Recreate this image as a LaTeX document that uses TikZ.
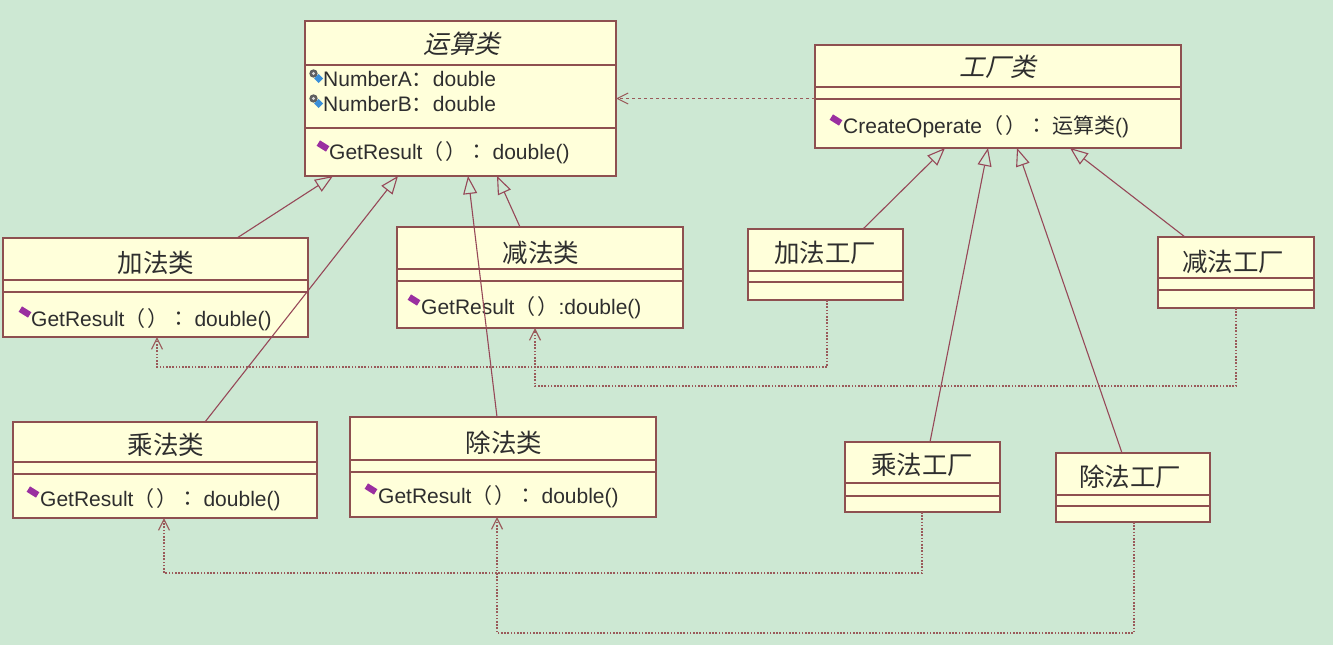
\documentclass[tikz,border=0pt]{standalone}
\usepackage{fontspec}
\setmainfont{Liberation Sans}
\newfontfamily\cjk{Noto Sans CJK SC}
\newfontfamily\cjkp{Noto Sans CJK TC}
\newfontfamily\cjkit[FakeSlant=0.22]{Noto Sans CJK SC}
\usetikzlibrary{arrows.meta}
\definecolor{bg}{HTML}{CDE8D3}
\definecolor{boxfill}{HTML}{FFFFDA}
\definecolor{boxdraw}{HTML}{8E5050}
\definecolor{linec}{HTML}{964858}
\definecolor{depc}{HTML}{9A5A5A}
\definecolor{txt}{HTML}{2E2E2E}
\definecolor{methc}{HTML}{9A2FA0}
\definecolor{attrc}{HTML}{3A8FD8}
\newcommand\pp{{\cjkp （\kern2pt）}}
\newcommand\cc{{\cjkp ：}\kern5pt}
\newcommand\ca{{\cjk ：}}
\begin{document}
\begin{tikzpicture}[x=1pt,y=-1pt,
  cls/.style={draw=boxdraw, fill=boxfill, line width=1.3pt, inner sep=0pt, outer sep=0pt, anchor=north west},
  sep/.style={draw=boxdraw, line width=1.3pt},
  ttl/.style={inner sep=0pt, text=txt, font=\cjk\fontsize{25.5}{28}\selectfont},
  ttli/.style={inner sep=0pt, text=txt, font=\cjkit\fontsize{25.5}{28}\selectfont},
  mem/.style={inner sep=0pt, anchor=west, text=txt, font=\fontsize{21}{25}\selectfont},
  gen/.style={draw=linec, line width=1.1pt, -{Triangle[open, length=18pt, width=14pt]}},
  dep/.style={draw=depc, line width=1.2pt, dash pattern=on 1.6pt off 1.6pt, -{Straight Barb[length=11pt, width=11pt]}},
  dep2/.style={draw=depc, line width=1.1pt, dash pattern=on 3pt off 3pt, -{Straight Barb[length=11pt, width=11pt]}},
  methico/.pic={\fill[methc, rotate=-32] (-5.5,-3.2) rectangle (5.5,3.2);},
  attrico/.pic={\fill[gray!75!black] (-2.5,-2.5) circle (4.2); \fill[white!70!gray] (-2.5,-2.5) circle (1.6); \fill[attrc] (2.5,-2) -- (7,2.5) -- (2.5,7) -- (-2,2.5) -- cycle;}
]
\useasboundingbox (0,0) rectangle (1333,645);
\fill[bg] (0,0) rectangle (1333,645);

% ---------- class boxes ----------
\node[cls, minimum width=311pt, minimum height=155pt] (op)   at (305,21)  {};
\node[cls, minimum width=366pt, minimum height=103pt] (fac)  at (815,45)  {};
\node[cls, minimum width=305pt, minimum height=99pt]  (addc) at (3,238)   {};
\node[cls, minimum width=286pt, minimum height=101pt] (subc) at (397,227) {};
\node[cls, minimum width=304pt, minimum height=96pt]  (mulc) at (13,422)  {};
\node[cls, minimum width=306pt, minimum height=100pt] (divc) at (350,417) {};
\node[cls, minimum width=155pt, minimum height=71pt]  (addf) at (748,229) {};
\node[cls, minimum width=156pt, minimum height=71pt]  (subf) at (1158,237) {};
\node[cls, minimum width=155pt, minimum height=70pt]  (mulf) at (845,442) {};
\node[cls, minimum width=154pt, minimum height=69pt]  (divf) at (1056,453) {};

% compartments
\draw[sep] (305,65) -- (616,65);   \draw[sep] (305,128) -- (616,128);
\draw[sep] (815,87) -- (1181,87);  \draw[sep] (815,99) -- (1181,99);
\draw[sep] (3,280) -- (308,280);   \draw[sep] (3,292) -- (308,292);
\draw[sep] (397,269) -- (683,269); \draw[sep] (397,281) -- (683,281);
\draw[sep] (13,462) -- (317,462);  \draw[sep] (13,474) -- (317,474);
\draw[sep] (350,460) -- (656,460); \draw[sep] (350,472) -- (656,472);
\draw[sep] (748,271) -- (903,271); \draw[sep] (748,282) -- (903,282);
\draw[sep] (1158,278) -- (1314,278); \draw[sep] (1158,290) -- (1314,290);
\draw[sep] (845,483) -- (1000,483); \draw[sep] (845,496) -- (1000,496);
\draw[sep] (1056,495) -- (1210,495); \draw[sep] (1056,506) -- (1210,506);

% ---------- texts ----------
\node[ttli] (opT) at (462,44) {运算类};
\pic at (316,76) {attrico};
\node[mem] (opA1) at (323,79) {NumberA\ca double};
\pic at (316,101) {attrico};
\node[mem] (opA2) at (323,104) {NumberB\ca double};
\pic at (323,146) {methico};
\node[mem] (opM) at (329,153) {GetResult\pp\cc double()};

\node[ttli] (facT) at (998,67) {工厂类};
\pic at (836,120) {methico};
\node[mem] (facM) at (843,127) {CreateOperate\pp\cc{\cjk 运算类}()};

\node[ttl] (addT) at (156,263) {加法类};
\pic at (25,312) {methico};
\node[mem] (addM) at (31,320) {GetResult\pp\cc double()};

\node[ttl] (subT) at (541,253) {减法类};
\pic at (414,300) {methico};
\node[mem] (subM) at (421,308) {GetResult\pp:double()};

\node[ttl] (mulT) at (166,445) {乘法类};
\pic at (33,492) {methico};
\node[mem] (mulM) at (40,500) {GetResult\pp\cc double()};

\node[ttl] (divT) at (504,443) {除法类};
\pic at (371,489) {methico};
\node[mem] (divM) at (378,497) {GetResult\pp\cc double()};

\node[ttl] (addfT) at (825,253) {加法工厂};
\node[ttl] (subfT) at (1233,262) {减法工厂};
\node[ttl] (mulfT) at (922,465) {乘法工厂};
\node[ttl] (divfT) at (1130,477) {除法工厂};

% ---------- generalizations ----------
\draw[gen] ([xshift=234pt]addc.north west) -- ([xshift=28pt]op.south west);
\draw[gen] ([xshift=192pt]mulc.north west) -- ([xshift=93pt]op.south west);
\draw[gen] ([xshift=147pt]divc.north west) -- ([xshift=163pt]op.south west);
\draw[gen] ([xshift=123pt]subc.north west) -- ([xshift=192pt]op.south west);

\draw[gen] ([xshift=115pt]addf.north west) -- ([xshift=130pt]fac.south west);
\draw[gen] ([xshift=85pt]mulf.north west)  -- ([xshift=173pt]fac.south west);
\draw[gen] ([xshift=66pt]divf.north west)  -- ([xshift=202pt]fac.south west);
\draw[gen] ([xshift=27pt]subf.north west)  -- ([xshift=255pt]fac.south west);

% ---------- dependencies ----------
\draw[dep2] ([yshift=-2pt]fac.west) -- (op.east |- 0,98.5);
\draw[dep] ([xshift=79pt]addf.south west) -- ++(0,67) -| ([xshift=154pt]addc.south west);
\draw[dep] ([xshift=78pt]subf.south west) -- ++(0,78) -| ([xshift=138pt]subc.south west);
\draw[dep] ([xshift=77pt]mulf.south west) -- ++(0,61) -| ([xshift=151pt]mulc.south west);
\draw[dep] ([xshift=78pt]divf.south west) -- ++(0,111) -| ([xshift=147pt]divc.south west);
\end{tikzpicture}
\end{document}
